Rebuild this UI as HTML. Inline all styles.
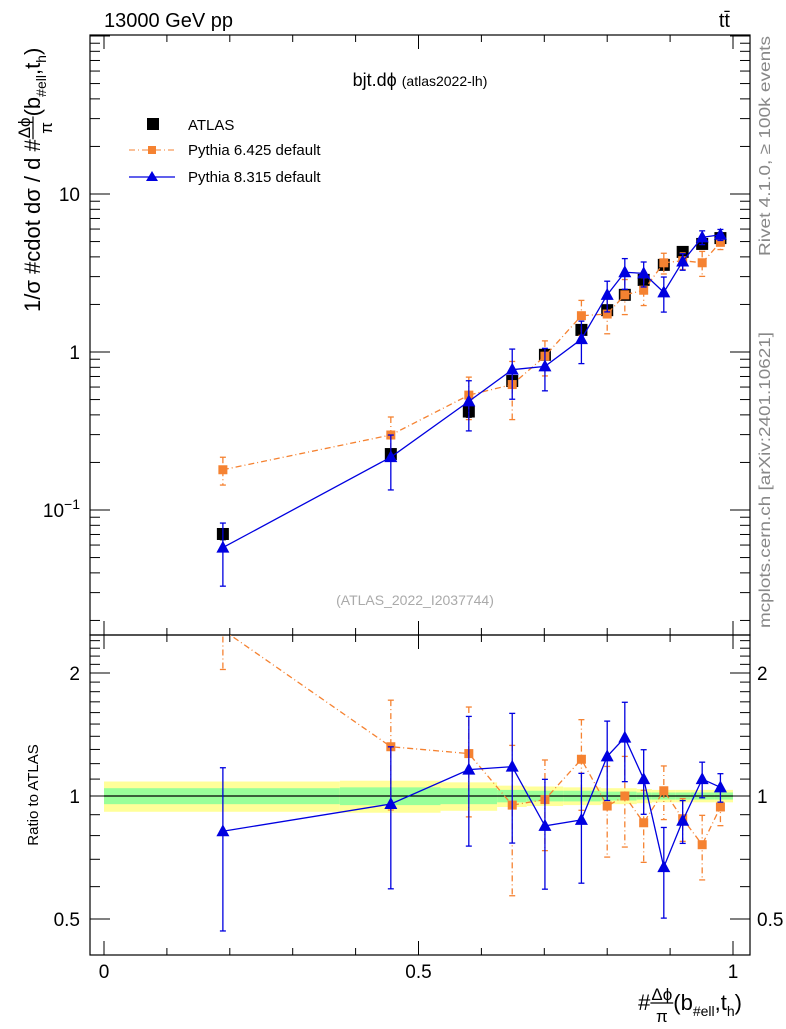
<!DOCTYPE html>
<html><head><meta charset="utf-8"><style>
body{margin:0;background:#fff;width:786px;height:1024px;overflow:hidden}
svg{font-family:"Liberation Sans",sans-serif}
</style></head><body>
<svg id="c" width="786" height="1024" viewBox="0 0 786 1024" xmlns="http://www.w3.org/2000/svg">
<text x="104" y="27" font-size="20">13000 GeV pp</text>
<text x="730" y="27" font-size="20" text-anchor="end">tt̄</text>
<text x="420" y="86" font-size="18" text-anchor="middle">bjt.dϕ <tspan font-size="14">(atlas2022-lh)</tspan></text>
<text x="415" y="605" font-size="14" fill="#aaa" text-anchor="middle">(ATLAS_2022_I2037744)</text>
<text transform="translate(770,36) rotate(-90)" font-size="16" fill="#888" text-anchor="end" textLength="220" lengthAdjust="spacingAndGlyphs">Rivet 4.1.0, ≥ 100k events</text>
<text transform="translate(770,628) rotate(-90)" font-size="16" fill="#888" textLength="296" lengthAdjust="spacingAndGlyphs">mcplots.cern.ch [arXiv:2401.10621]</text>
<g id="ytitle" transform="translate(40,312) rotate(-90)"></g>
<text transform="translate(38,795) rotate(-90)" font-size="15" text-anchor="middle">Ratio to ATLAS</text>
<g id="xtitle"></g>
<g>
<rect x="147" y="118" width="12" height="12" fill="#000"/>
<text x="188" y="130" font-size="15">ATLAS</text>
<line x1="129" y1="150" x2="175" y2="150" stroke="#f58231" stroke-dasharray="6,3,1,3"/>
<rect x="148" y="146" width="8" height="8" fill="#f58231"/>
<text x="188" y="155" font-size="15">Pythia 6.425 default</text>
<line x1="129" y1="177" x2="175" y2="177" stroke="#0000e0" stroke-width="1.3"/>
<path d="M152,171 L158,181 L146,181Z" fill="#0000e0"/>
<text x="188" y="182" font-size="15">Pythia 8.315 default</text>
</g>
<g id="plot"></g>
</svg>
<script>
const xs=[0.189,0.456,0.580,0.649,0.701,0.759,0.800,0.828,0.858,0.890,0.920,0.951,0.980];
const atlas=[0.0705,0.226,0.42,0.655,0.96,1.38,1.84,2.3,2.86,3.56,4.3,4.83,5.26];
const atlasErr=[0.08,0.06,0.08,0.08,0.06,0.06,0.05,0.05,0.05,0.05,0.04,0.04,0.04];
const p6ratio=[2.55,1.32,1.27,0.95,0.98,1.23,0.945,1.0,0.86,1.03,0.88,0.76,0.94];
const p6err=[0.2,0.3,0.3,0.4,0.25,0.25,0.25,0.25,0.2,0.15,0.12,0.18,0.1];
const p8ratio=[0.82,0.956,1.16,1.18,0.845,0.874,1.25,1.39,1.10,0.67,0.87,1.10,1.05];
const p8err=[0.43,0.38,0.35,0.35,0.3,0.3,0.22,0.22,0.18,0.25,0.12,0.1,0.08];
const binEdges=[0,0.375,0.535,0.625,0.672,0.73,0.79,0.814,0.847,0.871,0.909,0.933,0.97,1.0];
const bandYellow=[0.085,0.09,0.08,0.06,0.055,0.05,0.045,0.045,0.04,0.035,0.035,0.035,0.035];
const bandGreen=[0.045,0.05,0.045,0.035,0.03,0.03,0.025,0.025,0.02,0.02,0.02,0.02,0.02];
const L=90,R=750,T=35,M=635,B=955;
const X=v=>104+v*629;
const Y=v=>352-158*Math.log10(v);
const Yr=v=>796-408.6*Math.log10(v);
const NS='http://www.w3.org/2000/svg';
const g=document.getElementById('plot');
function el(t,a,p){const e=document.createElementNS(NS,t);for(const k in a)e.setAttribute(k,a[k]);(p||g).appendChild(e);return e;}
// composite title builder
function title(parent,x0,base){
 let x=x0;
 function txt(s,fs,dy){const t=el('text',{x:x,y:base+(dy||0),'font-size':fs},parent);t.textContent=s;return t;}
 function adv(t){x+=t.getComputedTextLength();}
 return {
  plain(s,fs){adv(txt(s,fs));},
  sub(s){adv(txt(s,14,6));},
  frac(n,d){const a=el('text',{x:0,y:base-10,'font-size':17,'text-anchor':'middle'},parent);a.textContent=n;
   const b=el('text',{x:0,y:base+12,'font-size':17,'text-anchor':'middle'},parent);b.textContent=d;
   const w=Math.max(a.getComputedTextLength(),b.getComputedTextLength())+2;
   a.setAttribute('x',x+w/2);b.setAttribute('x',x+w/2);
   el('line',{x1:x,x2:x+w,y1:base-7,y2:base-7,stroke:'#000','stroke-width':1.2},parent);x+=w;},
  get x(){return x;}
 };
}
const yt=title(document.getElementById('ytitle'),0,0);
yt.plain('1/σ #cdot dσ / d #',22);yt.frac('Δϕ','π');yt.plain('(b',22);yt.sub('#ell');yt.plain(',t',22);yt.sub('h');yt.plain(')',22);
const xg=document.getElementById('xtitle');
const xt=title(xg,0,1010);
xt.plain('#',22);xt.frac('Δϕ','π');xt.plain('(b',22);xt.sub('#ell');xt.plain(',t',22);xt.sub('h');xt.plain(')',22);
xg.setAttribute('transform','translate('+(742-xt.x)+',0)');
// clip paths
const defs=el('defs',{});
const c1=el('clipPath',{id:'ct'},defs);el('rect',{x:L,y:T,width:R-L,height:M-T},c1);
const c2=el('clipPath',{id:'cb'},defs);el('rect',{x:L,y:M,width:R-L,height:B-M},c2);
// band
const band=el('g',{'clip-path':'url(#cb)'});


for(let i=0;i<bandYellow.length;i++){
 const x1=X(binEdges[i]),x2=X(binEdges[i+1]);
 const r1=el('rect',{x:x1,y:Yr(1+bandYellow[i]),width:x2-x1,height:Yr(1-bandYellow[i])-Yr(1+bandYellow[i]),fill:'#ffff99'},band);
 
 
 const r2=el('rect',{x:x1,y:Yr(1+bandGreen[i]),width:x2-x1,height:Yr(1-bandGreen[i])-Yr(1+bandGreen[i]),fill:'#99ff99'},band);
 
 
}
el('line',{x1:X(0),x2:X(1),y1:Yr(1),y2:Yr(1),stroke:'#000','stroke-width':1.2});
const f1=el('rect',{x:L,y:T,width:R-L,height:M-T,fill:'none',stroke:'#000','stroke-width':1.2});


const f2=el('rect',{x:L,y:M,width:R-L,height:B-M,fill:'none',stroke:'#000','stroke-width':1.2});


for(let i=0;i<=10;i++){const x=X(i/10),l=(i%5==0)?14:7;
 for(const [y,d] of [[T,1],[M,-1],[M,1],[B,-1]]) el('line',{x1:x,x2:x,y1:y,y2:y+d*l,stroke:'#000'});
}
['0','0.5','1'].forEach((s,i)=>{const t=el('text',{x:X(i*0.5),y:978,'font-size':19,'text-anchor':'middle'});t.textContent=s;
 
 });
for(let d=-2;d<=2;d++)for(let m=1;m<10;m++){const v=m*Math.pow(10,d),y=Y(v);if(y<T||y>M)continue;const l=m==1?20:10;
 el('line',{x1:L,x2:L+l,y1:y,y2:y,stroke:'#000'});el('line',{x1:R,x2:R-l,y1:y,y2:y,stroke:'#000'});}
[[10,'10'],[1,'1']].forEach(([v,s])=>{const t=el('text',{x:80,y:Y(v)+7,'font-size':19,'text-anchor':'end'});t.textContent=s;
 
 });
{const t=el('text',{x:80,y:Y(0.1)+7,'font-size':19,'text-anchor':'end'});t.innerHTML='10<tspan dy="-8" font-size="14">−1</tspan>';
 
 }
for(let k=4;k<=25;k++){const vv=k/10;const y=Yr(vv);if(y<M||y>B)continue;
 const major=(k==5||k==10||k==20);const l=major?20:10;
 el('line',{x1:L,x2:L+l,y1:y,y2:y,stroke:'#000'});el('line',{x1:R,x2:R-l,y1:y,y2:y,stroke:'#000'});}
[[2,'2'],[1,'1'],[0.5,'0.5']].forEach(([v,s])=>{for(const [x,a] of [[80,'end'],[757,'start']]){const t=el('text',{x:x,y:Yr(v)+7,'font-size':19,'text-anchor':a});t.textContent=s;
 
 }});
const OR='#f58231',BL='#0000e0';
function series(vals,err,yf,clip,color,dash,marker,name){
 const grp=el('g',{'clip-path':clip});
 
 
 if(color){el('polyline',{points:xs.map((x,i)=>X(x)+','+yf(vals[i])).join(' '),fill:'none',stroke:color,'stroke-width':1.3,'stroke-dasharray':dash||'none'},grp);}
 xs.forEach((x,i)=>{const cx=X(x),v=vals[i],e=err[i]*v;const y1=yf(v+e),y2=yf(Math.max(v-e,1e-3));
  el('line',{x1:cx,x2:cx,y1:y1,y2:y2,stroke:color||'#000','stroke-width':1.3,'stroke-dasharray':dash||'none'},grp);
  el('line',{x1:cx-3,x2:cx+3,y1:y1,y2:y1,stroke:color||'#000','stroke-width':1.3},grp);
  el('line',{x1:cx-3,x2:cx+3,y1:y2,y2:y2,stroke:color||'#000','stroke-width':1.3},grp);
  const cy=yf(v);let m;
  if(marker=='sq') m=el('rect',{x:cx-6,y:cy-6,width:12,height:12,fill:'#000'},grp);
  else if(marker=='osq') m=el('rect',{x:cx-4.5,y:cy-4.5,width:9,height:9,fill:OR},grp);
  else m=el('path',{d:`M${cx},${cy-7}L${cx+6.5},${cy+5}L${cx-6.5},${cy+5}Z`,fill:BL},grp);
  
  
 });
}
const p6=atlas.map((a,i)=>a*p6ratio[i]),p8=atlas.map((a,i)=>a*p8ratio[i]);
series(atlas,atlasErr,Y,'url(#ct)',null,null,'sq','atlas-data');
series(p6,p6err,Y,'url(#ct)',OR,'6,3,1,3','osq','pythia6-series');
series(p8,p8err,Y,'url(#ct)',BL,null,'tri','pythia8-series');
series(p6ratio,p6err,Yr,'url(#cb)',OR,'6,3,1,3','osq','pythia6-ratio');
series(p8ratio,p8err,Yr,'url(#cb)',BL,null,'tri','pythia8-ratio');
</script>
</body></html>
